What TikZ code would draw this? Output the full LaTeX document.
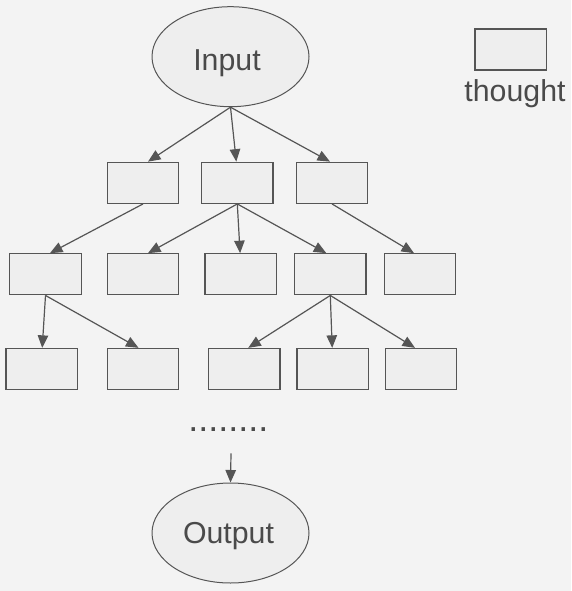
\documentclass[tikz,border=0pt]{standalone}
\usepackage{fontspec}
\setmainfont{Liberation Sans}
\usetikzlibrary{arrows.meta,shapes.geometric}
\definecolor{bg}{HTML}{F3F3F3}
\definecolor{boxfill}{HTML}{EEEEEE}
\definecolor{ln}{HTML}{555555}
\definecolor{tx}{HTML}{4A4A4A}
\tikzset{
  thoughtbox/.style={draw=ln, fill=boxfill, line width=1.3pt, minimum width=71.4pt, minimum height=41pt, inner sep=0pt},
  ellbox/.style={draw=ln, fill=boxfill, line width=1pt, ellipse, minimum width=157pt, minimum height=100pt, inner sep=0pt},
  lbl/.style={text=tx, font=\fontsize{30.3}{36}\selectfont, inner sep=0pt, anchor=base},
  conn/.style={draw=ln, line width=1.2pt, -{Triangle[length=12.5pt,width=10.5pt]}}
}
\begin{document}
\begin{tikzpicture}[x=1pt,y=-1pt]
\fill[bg] (0,0) rectangle (571,591);
\useasboundingbox (0,0) rectangle (571,591);
% ellipses
\node[ellbox] (in) at (230.5,56.7) {};
\node[lbl] (intext) at ([xshift=-3.5pt,yshift=-14pt]in.center) {Input};
\node[ellbox] (out) at (230.5,533) {};
\node[lbl] (outtext) at ([xshift=-2pt,yshift=-10.5pt]out.center) {Output};
% legend
\node[thoughtbox] (leg) at (510.8,49.5) {};
\node[lbl] (legtext) at (515,102) {thought};
% row 1
\node[thoughtbox] (r1a) at (143,182.8) {};
\node[thoughtbox] (r1b) at (237.3,182.8) {};
\node[thoughtbox] (r1c) at (332,182.8) {};
% row 2
\node[thoughtbox] (r2a) at (45.5,274.3) {};
\node[thoughtbox] (r2b) at (143,274.3) {};
\node[thoughtbox] (r2c) at (240.6,274.3) {};
\node[thoughtbox] (r2d) at (330.3,274.3) {};
\node[thoughtbox] (r2e) at (420,274.3) {};
% row 3
\node[thoughtbox] (r3a) at (41.7,369) {};
\node[thoughtbox] (r3b) at (143,369) {};
\node[thoughtbox] (r3c) at (244.3,369) {};
\node[thoughtbox] (r3d) at (332.7,369) {};
\node[thoughtbox] (r3e) at (421,369) {};
% dots
\node[text=tx, font=\fontsize{36}{40}\selectfont, inner sep=0pt, anchor=base] (dots) at (228.3,431) {........};
\coordinate (dstart) at (231,453.3);
% connectors
\draw[conn] (in.south) -- ([xshift=5pt]r1a.north);
\draw[conn] (in.south) -- ([xshift=-1pt]r1b.north);
\draw[conn] (in.south) -- ([xshift=-2pt]r1c.north);
\draw[conn] (r1a.south) -- ([xshift=4.5pt]r2a.north);
\draw[conn] (r1b.south) -- ([xshift=5pt]r2b.north);
\draw[conn] (r1b.south) -- ([xshift=-0.5pt]r2c.north);
\draw[conn] (r1b.south) -- ([xshift=-4pt]r2d.north);
\draw[conn] (r1c.south) -- ([xshift=-6pt]r2e.north);
\draw[conn] (r2a.south) -- ([xshift=0.5pt]r3a.north);
\draw[conn] (r2a.south) -- ([xshift=-4.5pt]r3b.north);
\draw[conn] (r2d.south) -- ([xshift=4pt]r3c.north);
\draw[conn] (r2d.south) -- ([xshift=-0.5pt]r3d.north);
\draw[conn] (r2d.south) -- ([xshift=-6pt]r3e.north);
\draw[conn] (dstart) -- (out.north);
\end{tikzpicture}
\end{document}
